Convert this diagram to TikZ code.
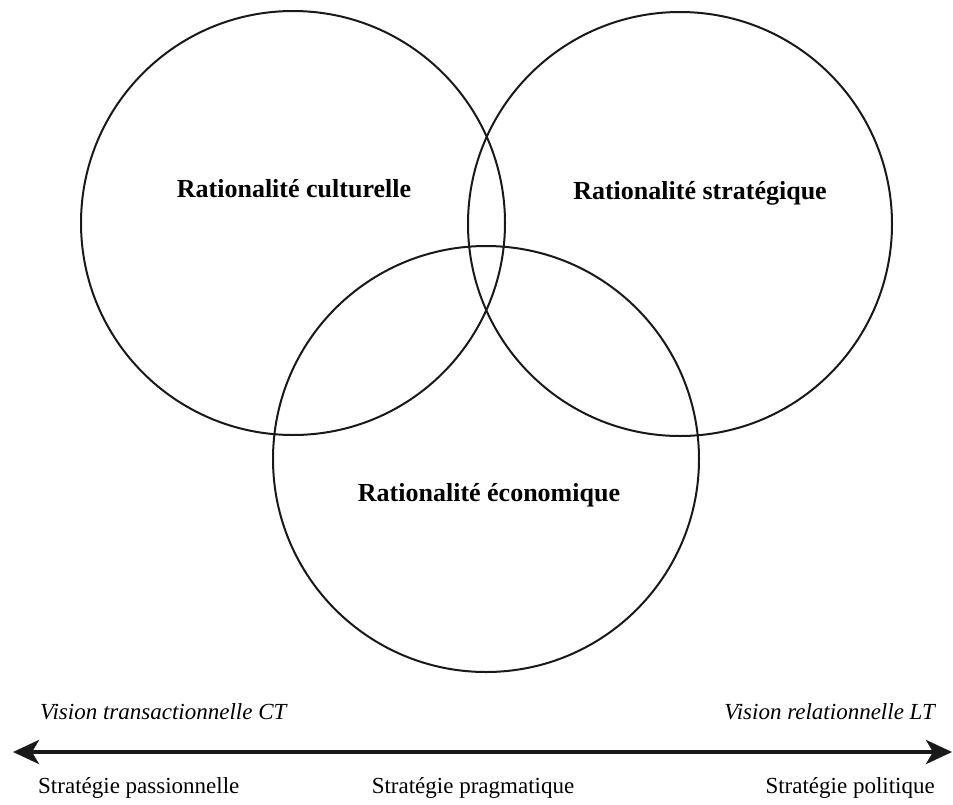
\documentclass[tikz,border=0pt]{standalone}
\usepackage{fontspec}
\setmainfont{Liberation Serif}
\usetikzlibrary{arrows.meta}
\begin{document}
\begin{tikzpicture}[x=1pt,y=-1pt,
  ring/.style={draw=black!90, line width=2pt},
  lab/.style={font=\fontsize{26}{30}\selectfont\bfseries, inner sep=0pt},
  vis/.style={font=\fontsize{23}{27}\selectfont\itshape, inner sep=0pt},
  strat/.style={font=\fontsize{23}{27}\selectfont, inner sep=0pt},
  axis/.style={line width=4pt, black!90, {Stealth[length=26pt,width=24pt,inset=7pt]}-{Stealth[length=26pt,width=24pt,inset=7pt]}}]
\useasboundingbox (0,0) rectangle (953,804);
\draw[ring] (293,223) circle[radius=212pt];
\draw[ring] (680,224) circle[radius=212pt];
\draw[ring] (486,459) circle[radius=213pt];
\node[lab, anchor=base] (c) at (294,197) {Rationalité culturelle};
\node[lab, anchor=base] (s) at (700,199) {Rationalité stratégique};
\node[lab, anchor=base] (e) at (489,501) {Rationalité économique};
\node[vis, anchor=base west] (vt) at (40,719) {Vision transactionnelle CT};
\node[vis, anchor=base east] (vr) at (935,719) {Vision relationnelle LT};
\coordinate (al) at (13,752);
\coordinate (ar) at (952,752);
\draw[axis] (al) -- (ar);
\node[strat, anchor=base west] (sp) at (38,793) {Stratégie passionnelle};
\node[strat, anchor=base] (sg) at (473,793) {Stratégie pragmatique};
\node[strat, anchor=base east] (so) at (935,793) {Stratégie politique};
\end{tikzpicture}
\end{document}
